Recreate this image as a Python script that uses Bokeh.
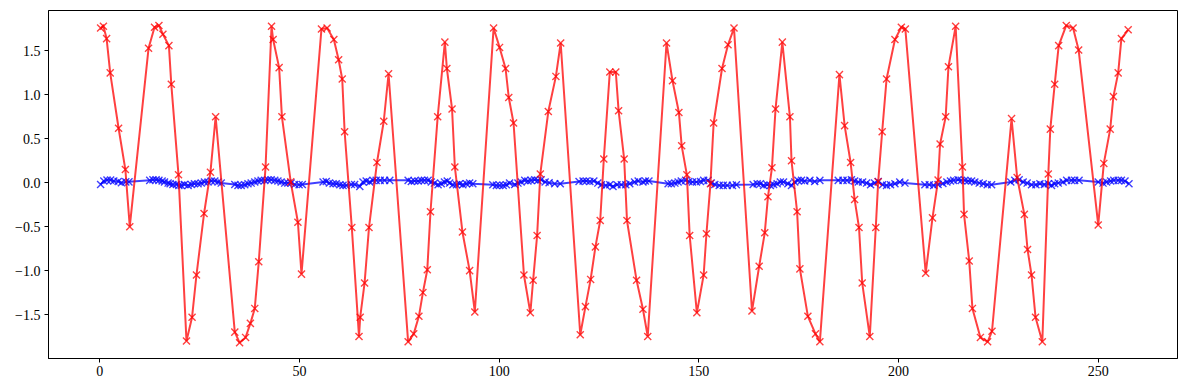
from bokeh.plotting import figure
from bokeh.models import Range1d, FixedTicker
from bokeh.embed import file_html
from bokeh.resources import INLINE

# ---- data ----
red_x = [0.2, 0.9, 1.7, 2.6, 4.7, 6.4, 7.5,
         12.2, 13.7, 14.8, 15.8, 17.3, 17.9, 19.7, 21.7, 23.1, 24.2, 26.1, 27.7, 29.0,
         33.8, 35.0, 36.5, 37.7, 38.8, 39.8, 41.5, 43.0, 43.4, 44.9, 45.6, 47.8, 49.6, 50.5,
         55.5, 56.9, 58.6, 59.8, 60.7, 61.3, 63.1, 64.9, 65.2, 66.3, 67.4, 69.4, 71.1, 72.3,
         77.2, 78.6, 79.9, 80.9, 82.0, 82.8, 84.6, 86.4, 86.9, 88.2, 88.9, 90.8, 92.6, 93.9,
         98.6, 100.1, 101.6, 102.4, 103.6, 106.2, 107.8, 108.5, 109.5, 110.3, 112.3, 114.2, 115.4,
         120.3, 121.6, 122.9, 124.1, 125.3, 126.2, 127.7, 129.2, 129.9, 131.3, 132.0, 134.4, 136.0, 137.2,
         141.9, 143.4, 145.0, 145.7, 147.0, 147.7, 149.5, 151.2, 151.9, 152.9, 153.7, 155.8, 157.3, 158.8,
         163.3, 165.1, 166.5, 167.3, 168.3, 169.2, 170.9, 172.8, 173.2, 174.6, 175.3, 177.3, 179.2, 180.3,
         185.2, 186.5, 188.0, 189.0, 190.1, 190.9, 192.8, 194.3, 194.9, 195.9, 197.0, 199.1, 200.7, 201.7,
         206.8, 208.5, 209.9, 210.4, 211.8, 212.5, 214.3, 216.0, 216.4, 217.7, 218.5, 220.5, 222.3, 223.4,
         228.3, 229.7, 231.5, 232.3, 233.3, 234.3, 236.0, 237.5, 238.0, 239.1, 240.1, 242.0, 243.7, 245.1,
         250.0, 251.4, 253.0, 253.8, 255.0, 255.8, 257.5]
red_y = [1.76, 1.78, 1.64, 1.25, 0.62, 0.15, -0.50,
         1.53, 1.77, 1.79, 1.69, 1.56, 1.12, 0.09, -1.80, -1.53, -1.05, -0.35, 0.12, 0.75,
         -1.70, -1.82, -1.76, -1.60, -1.43, -0.90, 0.18, 1.78, 1.63, 1.31, 0.75, 0.01, -0.45, -1.04,
         1.75, 1.76, 1.63, 1.40, 1.18, 0.58, -0.51, -1.75, -1.53, -1.14, -0.51, 0.23, 0.70, 1.24,
         -1.81, -1.72, -1.52, -1.25, -0.99, -0.33, 0.75, 1.60, 1.30, 0.84, 0.18, -0.56, -1.00, -1.47,
         1.76, 1.54, 1.30, 0.97, 0.68, -1.05, -1.48, -1.11, -0.60, 0.10, 0.81, 1.21, 1.59,
         -1.73, -1.41, -1.10, -0.73, -0.43, 0.27, 1.26, 1.26, 0.82, 0.27, -0.43, -1.11, -1.44, -1.75,
         1.59, 1.16, 0.80, 0.42, 0.09, -0.60, -1.48, -1.05, -0.58, -0.01, 0.68, 1.30, 1.57, 1.76,
         -1.46, -0.95, -0.57, -0.16, 0.17, 0.84, 1.60, 0.75, 0.25, -0.33, -0.98, -1.52, -1.72, -1.81,
         1.23, 0.65, 0.23, -0.19, -0.51, -1.14, -1.75, -0.51, 0.01, 0.58, 1.18, 1.63, 1.77, 1.75,
         -1.03, -0.40, 0.03, 0.44, 0.75, 1.32, 1.78, 0.18, -0.36, -0.89, -1.43, -1.76, -1.81, -1.69,
         0.73, 0.06, -0.36, -0.76, -1.05, -1.53, -1.81, 0.10, 0.61, 1.12, 1.56, 1.79, 1.76, 1.51,
         -0.48, 0.22, 0.61, 0.98, 1.25, 1.64, 1.74]

blue_x = [0.2, 1.0, 1.8, 2.7, 3.5, 4.6, 5.4, 6.5, 7.3,
          12.5, 13.3, 14.1, 14.8, 15.6, 16.2, 17.1, 17.6, 18.3, 19.2, 19.8, 20.4, 21.2, 22.1, 22.9,
          23.7, 24.6, 25.4, 26.2, 27.1, 27.9, 28.8, 29.6, 30.4, 33.8, 34.6,
          35.4, 36.3, 37.1, 37.9, 38.8, 39.6, 40.4, 41.3, 42.1, 42.9, 43.8, 44.6, 45.4, 46.3, 47.1,
          47.9, 48.8, 49.9, 50.7, 55.9, 56.7, 57.5, 58.4, 59.2, 60.1,
          60.9, 61.7, 63.0, 63.8, 65.1, 65.9, 66.7, 67.6, 68.4, 69.2, 70.2, 71.3, 72.6, 77.2, 78.0,
          78.8, 79.7, 80.5, 81.3, 82.2, 83.0, 83.8, 84.7, 85.5, 86.3, 87.0,
          87.6, 88.4, 89.3, 90.1, 90.9, 91.8, 92.6, 93.4, 98.4, 99.3, 100.1, 101.0, 101.8, 102.6,
          103.9, 104.7, 105.5, 106.4, 107.2, 108.0, 108.9, 109.7, 110.5, 111.5, 112.5,
          113.9, 115.3, 120.0, 121.0, 121.8, 122.7, 123.7, 124.7, 125.6, 126.7, 127.7, 128.5, 129.5,
          130.6, 131.7, 132.7, 133.9, 134.8, 136.0,
          136.6, 137.5, 142.3, 143.1, 144.0, 144.8, 145.6, 146.7, 147.5, 148.4, 149.4, 150.4, 151.2,
          152.3, 153.1, 154.0, 155.1, 156.1, 157.1, 158.4, 159.4,
          163.6, 164.6, 165.4, 166.2, 167.1, 167.9, 168.7, 169.6, 170.4, 171.2, 172.3, 173.2, 174.0,
          174.8, 175.7, 176.5, 177.8, 179.0, 180.3, 184.9, 186.1, 187.1,
          188.2, 189.0, 189.9, 191.0, 192.0, 193.0, 194.0, 194.9, 196.0, 197.0, 198.0, 199.1, 200.3,
          201.6, 206.6, 207.7, 208.8, 209.9, 211.1, 212.1,
          213.0, 213.8, 214.9, 215.7, 216.6, 217.4, 218.3, 219.1, 220.2, 221.2, 222.2, 223.3, 228.1,
          229.1, 230.2, 231.2, 232.2, 233.3, 234.4, 235.4, 236.5,
          237.5, 238.3, 239.1, 240.0, 241.2, 242.1, 243.3, 244.1, 245.2, 250.0, 251.2, 252.1, 253.1,
          253.9, 255.0, 255.8, 256.7, 257.7]
blue_y = [-0.020, 0.020, 0.030, 0.030, 0.020, 0.015, 0.000, 0.010, 0.010,
          0.027, 0.034, 0.034, 0.027, 0.020, 0.008, -0.004, -0.011, -0.020, -0.020, -0.030, -0.030, -0.020, -0.030, -0.020,
          -0.011, -0.011, -0.004, 0.008, 0.008, 0.020, 0.020, 0.008, -0.004, -0.020, -0.030,
          -0.030, -0.023, -0.011, -0.004, 0.008, 0.020, 0.027, 0.027, 0.034, 0.034, 0.027, 0.020, 0.008, -0.004, -0.004,
          -0.004, -0.020, -0.023, -0.020, 0.008, 0.015, -0.004, -0.011, -0.011, -0.023,
          -0.030, -0.030, -0.020, -0.020, -0.042, 0.008, 0.020, 0.008, 0.027, 0.027, 0.027, 0.027, 0.027, 0.027, 0.015,
          0.020, 0.020, 0.027, 0.027, 0.027, 0.008, -0.004, -0.023, -0.011, 0.008, 0.020,
          -0.004, -0.023, -0.023, -0.011, -0.023, -0.011, -0.004, -0.011, -0.023, -0.030, -0.030, -0.030, -0.023, -0.004,
          -0.020, -0.004, 0.008, 0.027, 0.020, 0.027, 0.034, 0.027, 0.034, 0.008, 0.000,
          -0.011, -0.011, 0.015, 0.020, 0.020, 0.015, 0.020, -0.004, -0.023, -0.030, -0.023, -0.042, -0.023,
          -0.023, -0.023, -0.011, 0.008, 0.020, 0.008,
          0.020, 0.020, -0.011, -0.011, -0.004, 0.008, 0.020, 0.027, 0.015, 0.008, 0.008, 0.015, 0.027,
          0.027, -0.004, -0.020, -0.030, -0.030, -0.030, -0.030, -0.023,
          -0.020, -0.011, -0.011, -0.030, -0.023, -0.030, -0.020, -0.011, 0.008, 0.008, -0.011, -0.030, 0.008,
          0.027, 0.027, 0.020, 0.027, 0.015, 0.027, 0.027, 0.027, 0.027,
          0.034, 0.020, 0.008, 0.008, -0.004, -0.023, -0.004, 0.015, -0.023, -0.030, -0.023, -0.011, 0.008,
          -0.004, -0.023, -0.023, -0.030, -0.020, -0.008, 0.008,
          0.020, 0.027, 0.034, 0.027, 0.027, 0.020, 0.020, 0.008, -0.004, -0.011, -0.023, -0.023, 0.008,
          0.027, 0.034, 0.008, -0.004, -0.023, -0.023, -0.011, -0.020,
          -0.011, -0.030, -0.011, -0.004, 0.008, 0.027, 0.027, 0.027, 0.027, 0.008, -0.004, 0.008, 0.020,
          0.027, 0.027, 0.027, 0.020, -0.011]

x_ticks = [0, 50, 100, 150, 200, 250]
y_ticks = [-1.5, -1.0, -0.5, 0.0, 0.5, 1.0, 1.5]
y_tick_labels = ["\u22121.5", "\u22121.0", "\u22120.5", "0.0", "0.5", "1.0", "1.5"]

FONT = "Liberation Serif"

p = figure(width=1181, height=382, output_backend="svg", toolbar_location=None,
           x_range=Range1d(-12.85, 269.85), y_range=Range1d(-2.0, 1.96),
           min_border_left=48, min_border_right=4, min_border_top=10, min_border_bottom=24)

p.grid.visible = False
p.outline_line_color = "black"
p.outline_line_width = 1
p.background_fill_color = "white"
p.border_fill_color = "white"

for ax in (p.xaxis[0], p.yaxis[0]):
    ax.axis_line_color = "black"
    ax.major_tick_in = 0
    ax.major_tick_out = 4
    ax.minor_tick_out = 0
    ax.minor_tick_in = 0
    ax.major_label_text_font = FONT
    ax.major_label_text_font_size = "14px"
    ax.major_label_text_color = "black"
    ax.major_tick_line_color = "black"

p.xaxis.ticker = FixedTicker(ticks=x_ticks)
p.xaxis.major_label_standoff = 3
p.yaxis.ticker = FixedTicker(ticks=y_ticks)
p.yaxis.major_label_overrides = {t: l for t, l in zip(y_ticks, y_tick_labels)}
p.yaxis.major_label_standoff = 4

p.line(blue_x, blue_y, line_color="blue", line_alpha=0.75, line_width=2)
p.scatter(blue_x, blue_y, marker="x", size=10, line_color="blue", line_alpha=0.75, line_width=1.4)
p.line(red_x, red_y, line_color="red", line_alpha=0.75, line_width=2)
p.scatter(red_x, red_y, marker="x", size=10, line_color="red", line_alpha=0.75, line_width=1.4)

open("out.html", "w").write(file_html(p, INLINE))
